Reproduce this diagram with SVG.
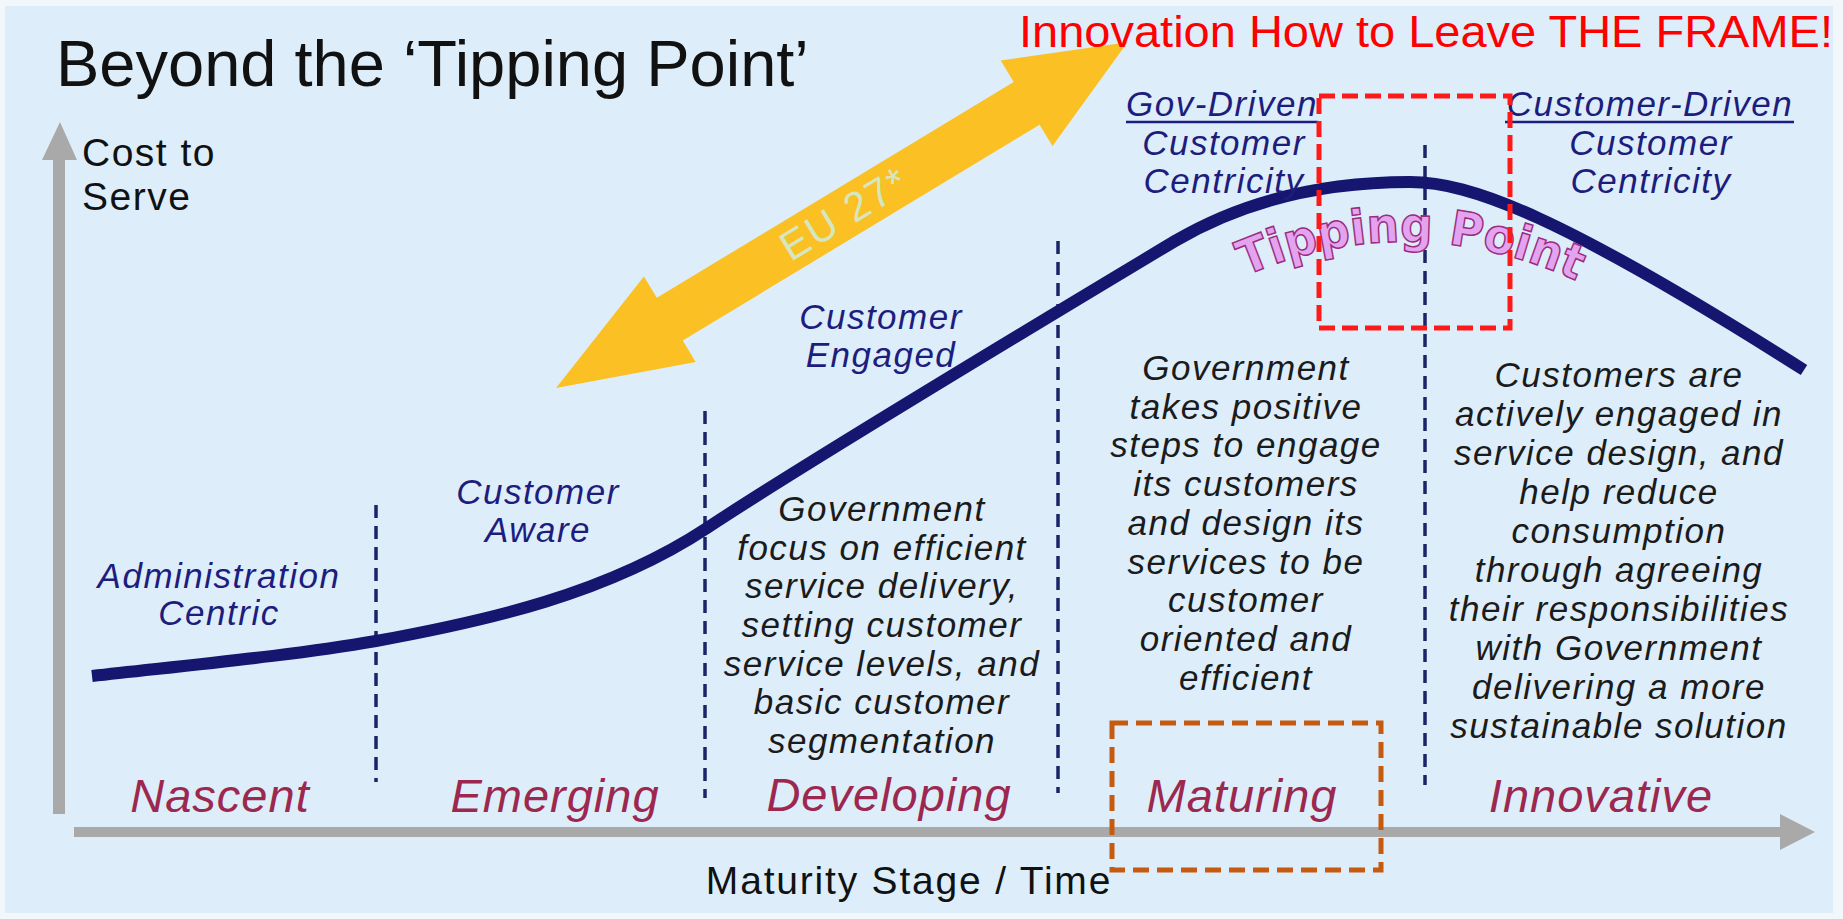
<svg xmlns="http://www.w3.org/2000/svg" width="1843" height="919" viewBox="0 0 1843 919">
<style>
.t{font-family:"Liberation Sans",Arial,sans-serif}
.navy{fill:#1d1d7e;font-style:italic;font-size:35px;letter-spacing:1.5px;text-anchor:middle}
.blk{fill:#1b1b1b;font-style:italic;font-size:35px;letter-spacing:1.5px;text-anchor:middle}
.stage{fill:#9c2850;font-style:italic;font-size:47px;letter-spacing:1px;text-anchor:middle}
.dash{stroke:#1b2468;stroke-width:3.5;stroke-dasharray:13 8;fill:none}
.axis{stroke:#a9a9a9;fill:none}
.ul{stroke:#1d1d7e;stroke-width:2.5}
</style>
<rect x="0" y="0" width="1843" height="919" fill="#f2f7fb"/>
<rect x="5" y="6" width="1828" height="907" fill="#ddeefa"/>

<g id="title"><text class="t" x="56" y="86" font-size="65" fill="#111">Beyond the ‘Tipping Point’</text></g>

<g id="axes">
<line class="axis" x1="59" y1="814" x2="59" y2="156" stroke-width="12"/>
<polygon points="42,160 60,122 77,160" fill="#a9a9a9"/>
<line class="axis" x1="74" y1="832" x2="1782" y2="832" stroke-width="10"/>
<polygon points="1780,814 1815,832 1780,850" fill="#a9a9a9"/>
<text class="t" x="82" y="166" font-size="39" letter-spacing="1.5" fill="#111">Cost to</text>
<text class="t" x="82" y="210" font-size="39" letter-spacing="1.5" fill="#111">Serve</text>
<text class="t" x="909" y="894" font-size="39" letter-spacing="1.8" fill="#111" text-anchor="middle">Maturity Stage / Time</text>
</g>

<g id="connectors">
<line class="dash" x1="376" y1="505" x2="376" y2="782"/>
<line class="dash" x1="705" y1="411" x2="705" y2="798"/>
<line class="dash" x1="1058" y1="241" x2="1058" y2="793"/>
<line class="dash" x1="1425" y1="145" x2="1425" y2="785"/>
<path d="M 92 676 C 200 664, 296 655, 376 641 C 486 621, 607 594, 707 528 C 807 462, 1060 310, 1175 241 C 1255 194, 1340 182, 1410 182 C 1470 182, 1560 215, 1804 370" fill="none" stroke="#161670" stroke-width="12"/>
</g>

<g id="eu-arrow" transform="translate(556,388) rotate(-31.17)">
<polygon points="0,0 133,-50 133,-25 550,-25 550,-50 668,0 550,50 550,25 133,25 133,50" fill="#fbc023"/>
<text class="t" x="337" y="14" font-size="41" letter-spacing="2" fill="#d5e6c0" text-anchor="middle">EU 27*</text>
</g>

<g id="tipping-point">
<path id="tpArc" d="M 1245 276 Q 1416 202 1592 288" fill="none"/>
<text font-family="'DejaVu Sans',sans-serif" font-weight="bold" font-size="48" fill="#e3a3ef" stroke="#9b2d7f" stroke-width="1.5"><textPath href="#tpArc" textLength="342" lengthAdjust="spacingAndGlyphs">Tipping Point</textPath></text>
</g>

<g id="admin-centric">
<text class="t navy" x="219" y="588">Administration</text>
<text class="t navy" x="219" y="625">Centric</text>
</g>
<g id="customer-aware">
<text class="t navy" x="538" y="504">Customer</text>
<text class="t navy" x="538" y="542">Aware</text>
</g>
<g id="customer-engaged">
<text class="t navy" x="881" y="329">Customer</text>
<text class="t navy" x="881" y="367">Engaged</text>
</g>
<g id="gov-driven">
<text class="t navy" x="1222" y="116">Gov-Driven</text>
<line class="ul" x1="1126" y1="122" x2="1318" y2="122"/>
<text class="t navy" x="1224" y="155">Customer</text>
<text class="t navy" x="1224" y="193">Centricity</text>
</g>
<g id="customer-driven">
<text class="t navy" x="1650" y="116">Customer-Driven</text>
<line class="ul" x1="1505" y1="122" x2="1794" y2="122"/>
<text class="t navy" x="1651" y="155">Customer</text>
<text class="t navy" x="1651" y="193">Centricity</text>
</g>

<g id="developing-text">
<text class="t blk" x="882" y="521">Government</text>
<text class="t blk" x="882" y="560">focus on efficient</text>
<text class="t blk" x="882" y="598">service delivery,</text>
<text class="t blk" x="882" y="637">setting customer</text>
<text class="t blk" x="882" y="676">service levels, and</text>
<text class="t blk" x="882" y="714">basic customer</text>
<text class="t blk" x="882" y="753">segmentation</text>
</g>
<g id="maturing-text">
<text class="t blk" x="1246" y="380">Government</text>
<text class="t blk" x="1246" y="419">takes positive</text>
<text class="t blk" x="1246" y="457">steps to engage</text>
<text class="t blk" x="1246" y="496">its customers</text>
<text class="t blk" x="1246" y="535">and design its</text>
<text class="t blk" x="1246" y="574">services to be</text>
<text class="t blk" x="1246" y="612">customer</text>
<text class="t blk" x="1246" y="651">oriented and</text>
<text class="t blk" x="1246" y="690">efficient</text>
</g>
<g id="innovative-text">
<text class="t blk" x="1619" y="387">Customers are</text>
<text class="t blk" x="1619" y="426">actively engaged in</text>
<text class="t blk" x="1619" y="465">service design, and</text>
<text class="t blk" x="1619" y="504">help reduce</text>
<text class="t blk" x="1619" y="543">consumption</text>
<text class="t blk" x="1619" y="582">through agreeing</text>
<text class="t blk" x="1619" y="621">their responsibilities</text>
<text class="t blk" x="1619" y="660">with Government</text>
<text class="t blk" x="1619" y="699">delivering a more</text>
<text class="t blk" x="1619" y="738">sustainable solution</text>
</g>

<g id="stages">
<text class="t stage" x="220" y="812">Nascent</text>
<text class="t stage" x="555" y="812">Emerging</text>
<text class="t stage" x="889" y="811">Developing</text>
<text class="t stage" x="1242" y="812">Maturing</text>
<text class="t stage" x="1601" y="812">Innovative</text>
</g>

<g id="annotations">
<rect x="1319" y="96" width="191" height="232" fill="none" stroke="#ff1a1a" stroke-width="5" stroke-dasharray="16 7"/>
<rect x="1112" y="723" width="269" height="147" fill="none" stroke="#c55a11" stroke-width="5" stroke-dasharray="16 8"/>
<text class="t" x="1019" y="47" font-size="45" fill="#ff0000" textLength="814" lengthAdjust="spacingAndGlyphs">Innovation How to Leave THE FRAME!</text>
</g>
</svg>
